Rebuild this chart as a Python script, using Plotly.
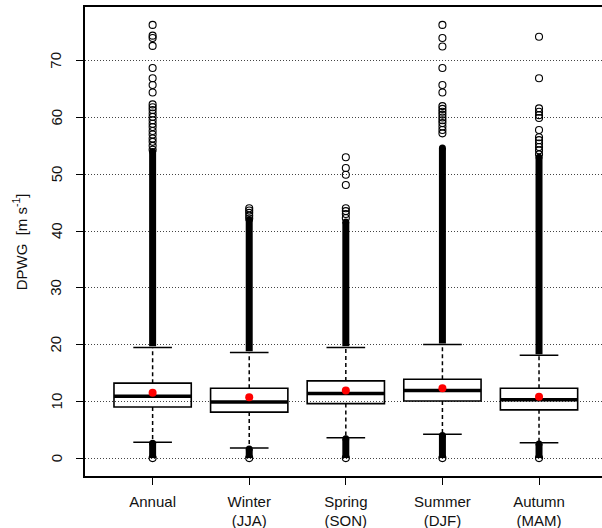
import plotly.graph_objects as go

# ---------------- data ----------------
categories = ["Annual", "Winter<br>(JJA)", "Spring<br>(SON)", "Summer<br>(DJF)", "Autumn<br>(MAM)"]
positions = [1, 2, 3, 4, 5]

q1 = [9.0, 8.1, 9.6, 10.05, 8.5]
median = [10.9, 9.9, 11.4, 11.9, 10.3]
q3 = [13.2, 12.3, 13.6, 13.9, 12.3]
mean = [11.5, 10.7, 11.9, 12.3, 10.8]
whisker_lo = [2.8, 1.8, 3.6, 4.2, 2.7]
whisker_hi = [19.5, 18.6, 19.5, 20.0, 18.1]

# dense (overplotted) outlier runs: [low, high]
dense_upper_lo = [19.7, 18.8, 19.7, 20.2, 18.3]
dense_upper_hi = [54.0, 42.0, 41.6, 54.6, 53.0]
dense_lower_lo = [0.0, 0.0, 0.0, 0.0, 0.0]
dense_lower_hi = [2.6, 1.6, 3.4, 4.0, 2.5]

# individually visible outliers
outliers_annual = [76.3, 74.4, 74.0, 72.6, 68.7, 66.9, 65.7, 64.4, 62.3, 61.8, 61.3, 60.7,
                   60.1, 59.5, 58.9, 58.3, 57.6, 57.0, 56.3, 55.7, 55.0, 54.3, 0.0]
outliers_winter = [44.0, 43.6, 43.2, 42.7, 42.2, 0.0]
outliers_spring = [53.0, 51.1, 49.9, 48.1, 44.0, 43.5, 43.0, 42.3, 0.0]
outliers_summer = [76.3, 74.0, 72.5, 68.7, 65.7, 64.4, 62.0, 61.5, 61.0, 60.5, 60.0, 59.5,
                   59.0, 58.4, 57.8, 57.2, 0.0]
outliers_autumn = [74.2, 66.9, 61.6, 61.0, 60.4, 59.9, 57.8, 56.5, 56.0, 55.4, 54.8, 54.2,
                   53.5, 0.0]
outliers = [outliers_annual, outliers_winter, outliers_spring, outliers_summer, outliers_autumn]

y_ticks = [0, 10, 20, 30, 40, 50, 60, 70]
y_tick_labels = [str(v) for v in y_ticks]
y_title = "DPWG  [m s<sup>-1</sup>]"

# ---------------- styling constants ----------------
BOX_W = 0.8
CAP_W = 0.4
FONT = "Liberation Sans, Arial, sans-serif"
INK = "#111111"
FS = 15

fig = go.Figure()

# dense outlier runs
for p, lo, hi in zip(positions, dense_upper_lo, dense_upper_hi):
    fig.add_trace(go.Scatter(x=[p, p], y=[lo, hi], mode="lines",
                             line=dict(color="black", width=7), hoverinfo="skip"))
    fig.add_trace(go.Scatter(x=[p], y=[hi], mode="markers",
                             marker=dict(symbol="circle", size=7, color="black"),
                             hoverinfo="skip"))
for p, lo, hi in zip(positions, dense_lower_lo, dense_lower_hi):
    fig.add_trace(go.Scatter(x=[p, p], y=[lo, hi], mode="lines",
                             line=dict(color="black", width=7), hoverinfo="skip"))
    fig.add_trace(go.Scatter(x=[p], y=[hi], mode="markers",
                             marker=dict(symbol="circle", size=7, color="black"),
                             hoverinfo="skip"))

# individual outliers (open circles)
for p, ys in zip(positions, outliers):
    fig.add_trace(go.Scatter(x=[p] * len(ys), y=ys, mode="markers",
                             marker=dict(symbol="circle-open", size=7,
                                         color="black", line=dict(width=1.1)),
                             hoverinfo="skip"))

# whiskers (dashed) and caps
wx, wy, cx, cy = [], [], [], []
for p, a, b, lo, hi in zip(positions, q1, q3, whisker_lo, whisker_hi):
    wx += [p, p, None, p, p, None]
    wy += [b, hi, None, a, lo, None]
    cx += [p - CAP_W / 2, p + CAP_W / 2, None, p - CAP_W / 2, p + CAP_W / 2, None]
    cy += [hi, hi, None, lo, lo, None]
fig.add_trace(go.Scatter(x=wx, y=wy, mode="lines",
                         line=dict(color="black", width=1.5, dash="4px,3px"),
                         hoverinfo="skip"))
fig.add_trace(go.Scatter(x=cx, y=cy, mode="lines",
                         line=dict(color="black", width=1.5), hoverinfo="skip"))

# boxes
fig.add_trace(go.Box(x=positions, q1=q1, median=median, q3=q3,
                     lowerfence=q1, upperfence=q3, width=BOX_W,
                     whiskerwidth=0, fillcolor="rgba(0,0,0,0)",
                     line=dict(color="black", width=1.6), boxpoints=False,
                     hoverinfo="skip"))

# thick median lines
mx, my = [], []
for p, m in zip(positions, median):
    mx += [p - BOX_W / 2, p + BOX_W / 2, None]
    my += [m, m, None]
fig.add_trace(go.Scatter(x=mx, y=my, mode="lines",
                         line=dict(color="black", width=3.5), hoverinfo="skip"))

# means
fig.add_trace(go.Scatter(x=positions, y=mean, mode="markers",
                         marker=dict(symbol="circle", size=8, color="#ff0000"),
                         hoverinfo="skip"))

# rotated y tick labels (R style, parallel to axis)
for v, t in zip(y_ticks, y_tick_labels):
    fig.add_annotation(x=-0.056, xref="paper", y=v, yref="y", text=t,
                       textangle=-90, showarrow=False, xanchor="center",
                       yanchor="middle", font=dict(size=FS, color=INK))
# y axis title
fig.add_annotation(x=-0.126, xref="paper", y=0.5, yref="paper", text=y_title,
                   textangle=-90, showarrow=False, xanchor="center",
                   yanchor="middle", font=dict(size=FS, color=INK))

fig.update_layout(
    width=602, height=528,
    margin=dict(l=85, r=0, t=7, b=52),
    paper_bgcolor="white", plot_bgcolor="white",
    showlegend=False,
    font=dict(family=FONT, size=FS, color=INK),
    xaxis=dict(range=[0.3, 5.652], tickmode="array", tickvals=positions,
               ticktext=categories, ticks="outside", ticklen=7,
               tickcolor="black", tickwidth=1.2, showgrid=False, zeroline=False,
               showline=True, linecolor="black", linewidth=1.5, mirror=True,
               ticklabelstandoff=4, automargin=False,
               tickfont=dict(size=FS, color=INK)),
    yaxis=dict(range=[-3.15, 79.45], tickmode="array", tickvals=y_ticks,
               showticklabels=False, automargin=False,
               ticks="outside", ticklen=7, tickcolor="black", tickwidth=1.2,
               showgrid=True, gridcolor="#444444", griddash="1px,2px", gridwidth=1,
               zeroline=False, showline=True, linecolor="black", linewidth=1.5,
               mirror=False),
)

fig.write_html("out.html", config={"displayModeBar": False},
               post_script="document.body.style.margin='0';document.body.style.overflow='hidden';")
